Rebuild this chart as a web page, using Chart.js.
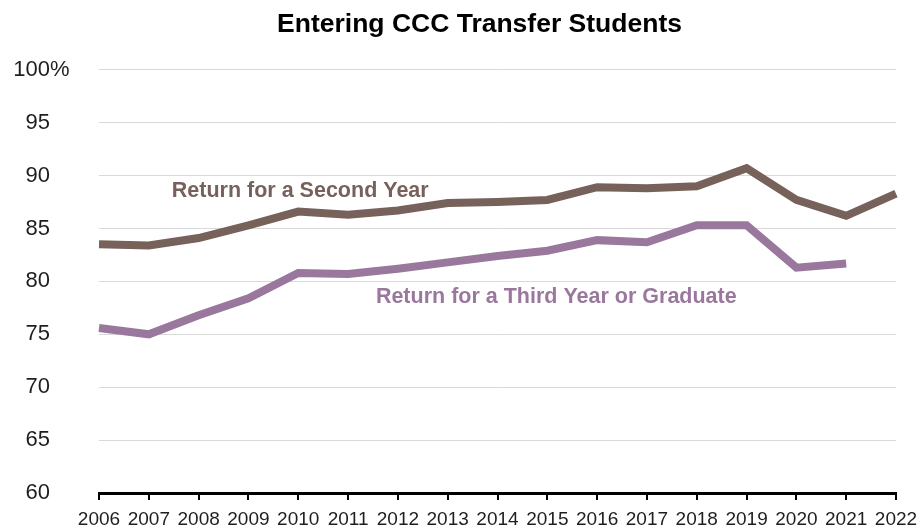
<!DOCTYPE html>
<html>
<head>
<meta charset="utf-8">
<script src="https://cdn.jsdelivr.net/npm/chart.js@4.4.1/dist/chart.umd.min.js"></script>
<style>
  html, body { margin: 0; padding: 0; background: #fff; }
  #wrap { width: 920px; height: 531px; position: relative; }
</style>
</head>
<body>
<div id="wrap"><canvas id="chart"></canvas></div>
<script>
const years = ['2006','2007','2008','2009','2010','2011','2012','2013','2014','2015','2016','2017','2018','2019','2020','2021','2022'];
const secondYear = [83.5, 83.4, 84.1, 85.3, 86.6, 86.3, 86.7, 87.4, 87.5, 87.7, 88.9, 88.8, 89.0, 90.7, 87.7, 86.2, 88.3];
const thirdYear = [75.6, 75.0, 76.8, 78.4, 80.8, 80.7, 81.2, 81.8, 82.4, 82.9, 83.9, 83.7, 85.3, 85.3, 81.3, 81.7, null];
const yTicks = [60, 65, 70, 75, 80, 85, 90, 95, 100];

const BROWN = '#76615b';
const PURPLE = '#9a789d';
const FONT = '"Liberation Sans", Arial, sans-serif';
const Y_PAD = 49;

// series names written next to the lines, positioned in data units
const seriesLabels = [
  { text: 'Return for a Second Year', x: 4.04, y: 88.5, color: BROWN },
  { text: 'Return for a Third Year or Graduate', x: 9.18, y: 78.5, color: PURPLE }
];

const lineLabels = {
  id: 'lineLabels',
  afterLayout(chart) {
    // original title is centred a bit right of the canvas middle
    if (chart.titleBlock) chart.titleBlock.left = 63;
  },
  afterDatasetsDraw(chart) {
    const { ctx, scales: { x, y } } = chart;
    ctx.save();
    ctx.font = 'bold 21.5px ' + FONT;
    ctx.textAlign = 'center';
    ctx.textBaseline = 'middle';
    seriesLabels.forEach(l => {
      ctx.fillStyle = l.color;
      ctx.fillText(l.text, x.getPixelForValue(l.x), y.getPixelForValue(l.y));
    });
    // percent sign hangs after the top tick label
    ctx.font = '22px ' + FONT;
    ctx.fillStyle = '#1e1e1e';
    ctx.textAlign = 'left';
    ctx.fillText('%', y.right - Y_PAD, y.getPixelForValue(100));
    ctx.restore();
  }
};

new Chart(document.getElementById('chart'), {
  type: 'line',
  data: {
    labels: years,
    datasets: [
      { label: 'Return for a Second Year', data: secondYear, borderColor: BROWN, borderWidth: 8, pointRadius: 0, tension: 0 },
      { label: 'Return for a Third Year or Graduate', data: thirdYear, borderColor: PURPLE, borderWidth: 8, pointRadius: 0, tension: 0 }
    ]
  },
  options: {
    responsive: true,
    maintainAspectRatio: false,
    animation: false,
    layout: { padding: { left: 0, right: 24, top: 2, bottom: 0 } },
    plugins: {
      legend: { display: false },
      tooltip: { enabled: false },
      title: {
        display: true,
        text: 'Entering CCC Transfer Students',
        color: '#000',
        font: { family: FONT, size: 26.5, weight: 'bold' },
        padding: { top: 7, bottom: 29 }
      }
    },
    scales: {
      x: {
        offset: false,
        afterFit(scale) { scale.height = 38; scale.paddingLeft = 0; scale.paddingRight = 0; },
        grid: { drawOnChartArea: false, drawTicks: true, tickLength: 7, color: '#000', lineWidth: 2 },
        border: { display: true, color: '#000', width: 3 },
        ticks: { color: '#1e1e1e', font: { family: FONT, size: 19 }, maxRotation: 0, autoSkip: false, padding: 8 }
      },
      y: {
        min: 60,
        max: 100,
        afterBuildTicks(scale) { scale.ticks = yTicks.map(v => ({ value: v })); },
        afterFit(scale) { scale.width = 99; scale.paddingTop = 0; scale.paddingBottom = 0; },
        grid: { color: '#d9d9d9', lineWidth: 1, drawTicks: false },
        border: { display: false },
        ticks: { color: '#1e1e1e', font: { family: FONT, size: 22 }, padding: Y_PAD }
      }
    }
  },
  plugins: [lineLabels]
});
</script>
</body>
</html>
